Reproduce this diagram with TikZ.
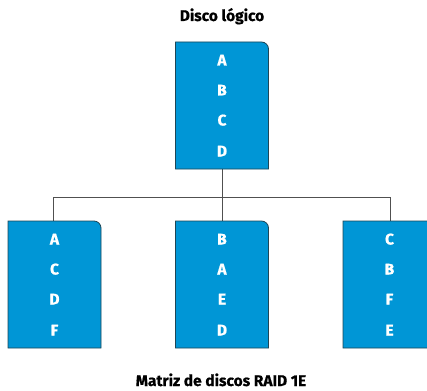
\documentclass[tikz,border=0pt]{standalone}
\usepackage{fontspec}
\newfontfamily\labelfont{Fira Sans}[FakeBold=0.6]
\definecolor{diskblue}{HTML}{0096D6}
\definecolor{diskedge}{HTML}{1E4656}
\definecolor{wire}{HTML}{505050}
\tikzset{
  disk/.style={minimum width=93pt, minimum height=127pt, inner sep=0pt, outer sep=0pt},
  blk/.style={text=white, anchor=base, inner sep=0pt, font=\labelfont\bfseries\fontsize{15.5}{16}\selectfont},
  heading/.style={anchor=base, inner sep=0pt, font=\labelfont\bfseries\fontsize{15.5}{16}\selectfont},
  wirestyle/.style={draw=wire, line width=0.9pt},
}
% outline of a disk: square corners except the rounded top right one
\newcommand\diskshape[1]{%
  \filldraw[fill=diskblue, draw=diskedge, line width=0.8pt]
    (#1.south west) -- (#1.north west) -- ([xshift=-7pt]#1.north east)
    arc[start angle=90, end angle=0, radius=7pt] -- (#1.south east) -- cycle;}
% four block labels inside a disk
\newcommand\diskblocks[5]{%
  \node[blk] (#1a) at ([yshift=-23.5pt]#1.north) {#2};
  \node[blk] (#1b) at ([yshift=-53.5pt]#1.north) {#3};
  \node[blk] (#1c) at ([yshift=-83.5pt]#1.north) {#4};
  \node[blk] (#1d) at ([yshift=-114.5pt]#1.north) {#5};}
\begin{document}
\begin{tikzpicture}[x=1pt, y=1pt]
\useasboundingbox (0,0) rectangle (427,-390);
\clip (0,0) rectangle (427,-390);

\node[heading] (logical) at (222,-21) {Disco lógico};
\node[heading] (array) at (221,-386) {Matriz de discos RAID 1E};

\node[disk] (top) at (222,-105.5) {};
\node[disk] (left) at (54.5,-284.5) {};
\node[disk] (mid) at (222,-284.5) {};
\node[disk] (right) at (389.5,-284.5) {};

\coordinate (bus) at (222,-197);

% connectors
\draw[wirestyle] (top.south) -- (mid.north);
\draw[wirestyle] ([xshift=-1.5pt]left.north) -- ([xshift=-1.5pt]left.north |- bus)
  -- ([xshift=0.5pt]right.north |- bus) -- ([xshift=0.5pt]right.north);

\diskshape{top}
\diskshape{left}
\diskshape{mid}
\diskshape{right}

\diskblocks{top}{A}{B}{C}{D}
\diskblocks{left}{A}{C}{D}{F}
\diskblocks{mid}{B}{A}{E}{D}
\diskblocks{right}{C}{B}{F}{E}
\end{tikzpicture}
\end{document}
